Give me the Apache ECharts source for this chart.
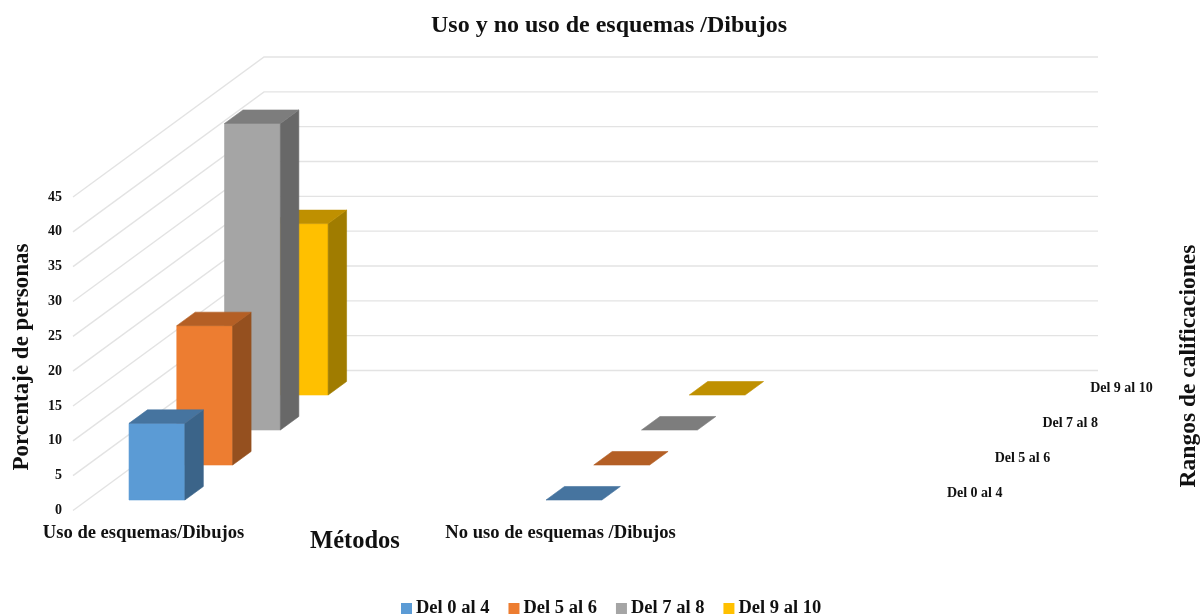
<!DOCTYPE html>
<html>
<head>
<meta charset="utf-8">
<title>Uso y no uso de esquemas /Dibujos</title>
<script src="https://cdn.jsdelivr.net/npm/echarts@6/dist/echarts.min.js"></script>
<style>
  html, body { margin: 0; background: #fff; }
  #chart { width: 1200px; height: 616px; }
</style>
</head>
<body>
<div id="chart"></div>
<script>
  var categories = ['Uso de esquemas/Dibujos', 'No uso de esquemas /Dibujos'];
  var rangos = ['Del 0 al 4', 'Del 5 al 6', 'Del 7 al 8', 'Del 9 al 10'];
  var del0al4 = [11, 0];
  var del5al6 = [20, 0];
  var del7al8 = [44, 0];
  var del9al10 = [24.6, 0];
  var yTicks = [0, 5, 10, 15, 20, 25, 30, 35, 40, 45];

  var valores = [del0al4, del5al6, del7al8, del9al10];
  var colores = ['#5b9bd5', '#ed7d31', '#a5a5a5', '#ffc000'];
  var coloresTop = ['#46749f', '#b45f25', '#7d7d7d', '#bf9000'];
  var coloresLado = ['#3b6489', '#95501f', '#686868', '#a07c00'];

  var serif = '"Liberation Serif", "Times New Roman", serif';
  var negro = '#111';

  // oblique projection: the floor runs back 191px right and 140px up
  var DEPTH_X = 191;
  var DEPTH_Y = -140;
  var STEP_X = DEPTH_X / 4;
  var STEP_Y = DEPTH_Y / 4;

  function poly(points, fill) {
    return {
      type: 'polygon',
      shape: {points: points},
      style: {fill: fill, stroke: fill, lineWidth: 0.6}
    };
  }

  function renderBar(s) {
    return function (params, api) {
      var cat = api.value(0);
      var base = api.coord([cat, 0]);
      var tope = api.coord([cat, api.value(1)]);
      var w = api.size([1, 0])[0];
      var barW = w * 0.134;
      var dx = STEP_X * 0.386;
      var dy = STEP_Y * 0.386;
      var x0 = base[0] - w / 2 + w * 0.1 + (s + 0.3) * STEP_X;
      var x1 = x0 + barW;
      var y0 = base[1] + (s + 0.3) * STEP_Y;
      var y1 = tope[1] + (s + 0.3) * STEP_Y;
      var children = [];
      if (y0 - y1 > 0.5) {
        children.push(poly([[x0, y1], [x1, y1], [x1, y0], [x0, y0]], colores[s]));
        children.push(poly([[x1, y1], [x1 + dx, y1 + dy], [x1 + dx, y0 + dy], [x1, y0]], coloresLado[s]));
      }
      children.push(poly([[x0, y1], [x0 + dx, y1 + dy], [x1 + dx, y1 + dy], [x1, y1]], coloresTop[s]));
      return {type: 'group', children: children};
    };
  }

  function renderPared(params, api) {
    var p = api.coord([0, api.value(1)]);
    var w = api.size([1, 0])[0];
    var x = p[0] - w / 2;
    return {
      type: 'polyline',
      shape: {points: [[x, p[1]], [x + DEPTH_X, p[1] + DEPTH_Y], [x + DEPTH_X + w * categories.length, p[1] + DEPTH_Y]]},
      style: {fill: null, stroke: '#e3e3e3', lineWidth: 1.4}
    };
  }

  // labels of the depth axis, to the right of the floor
  function renderRango(params, api) {
    var s = api.value(0);
    var p = api.coord([categories.length - 1, 0]);
    var w = api.size([1, 0])[0];
    return {
      type: 'text',
      x: p[0] + w / 2 + (s + 0.5) * STEP_X + 16,
      y: p[1] + (s + 0.5) * STEP_Y,
      style: {
        text: rangos[s],
        font: 'bold 14px ' + serif,
        fill: negro,
        textAlign: 'left',
        textVerticalAlign: 'middle'
      }
    };
  }

  var series = [
    {
      type: 'custom',
      name: 'pared',
      z: 1,
      silent: true,
      renderItem: renderPared,
      encode: {x: 0, y: 1},
      data: yTicks.map(function (v) { return [0, v]; })
    },
    {
      type: 'custom',
      name: 'rangos',
      z: 1,
      silent: true,
      renderItem: renderRango,
      encode: {},
      data: rangos.map(function (r, i) { return [i]; })
    }
  ];
  rangos.forEach(function (r, s) {
    series.push({
      type: 'custom',
      name: r,
      z: 10 - s,
      itemStyle: {color: colores[s]},
      renderItem: renderBar(s),
      encode: {x: 0, y: 1},
      data: valores[s].map(function (v, i) { return [i, v]; })
    });
  });

  var myChart = echarts.init(document.getElementById('chart'));
  myChart.setOption({
    animation: false,
    backgroundColor: '#fff',
    title: {
      text: 'Uso y no uso de esquemas /Dibujos',
      left: 604,
      top: 9,
      textAlign: 'center',
      textStyle: {fontFamily: serif, fontSize: 24, fontWeight: 'bold', color: negro}
    },
    legend: {
      data: rangos,
      left: 401,
      top: 599,
      padding: 0,
      icon: 'rect',
      itemWidth: 11,
      itemHeight: 11,
      itemGap: 19,
      textStyle: {fontFamily: serif, fontSize: 18.5, fontWeight: 'bold', color: negro, padding: [0, 0, 0, -1]}
    },
    grid: {left: 73, width: 834, top: 197, height: 313.5},
    xAxis: {
      type: 'category',
      data: categories,
      axisLine: {show: false},
      axisTick: {show: false},
      axisLabel: {
        interval: 0,
        margin: 13,
        padding: [0, 276, 0, 0],
        fontFamily: serif,
        fontSize: 18.6,
        fontWeight: 'bold',
        color: negro
      }
    },
    yAxis: {
      type: 'value',
      min: 0,
      max: 45,
      interval: 5,
      axisLine: {show: false},
      axisTick: {show: false},
      splitLine: {show: false},
      axisLabel: {margin: 11, fontFamily: serif, fontSize: 14, fontWeight: 'bold', color: negro}
    },
    graphic: [
      {
        type: 'text', x: 22, y: 357, rotation: Math.PI / 2,
        style: {text: 'Porcentaje de personas', font: 'bold 23px ' + serif, fill: negro, textAlign: 'center', textVerticalAlign: 'middle'}
      },
      {
        type: 'text', x: 355, y: 542,
        style: {text: 'Métodos', font: 'bold 24.5px ' + serif, fill: negro, textAlign: 'center', textVerticalAlign: 'middle'}
      },
      {
        type: 'text', x: 1189, y: 366, rotation: Math.PI / 2,
        style: {text: 'Rangos de calificaciones', font: 'bold 23.5px ' + serif, fill: negro, textAlign: 'center', textVerticalAlign: 'middle'}
      }
    ],
    series: series
  });
</script>
</body>
</html>
